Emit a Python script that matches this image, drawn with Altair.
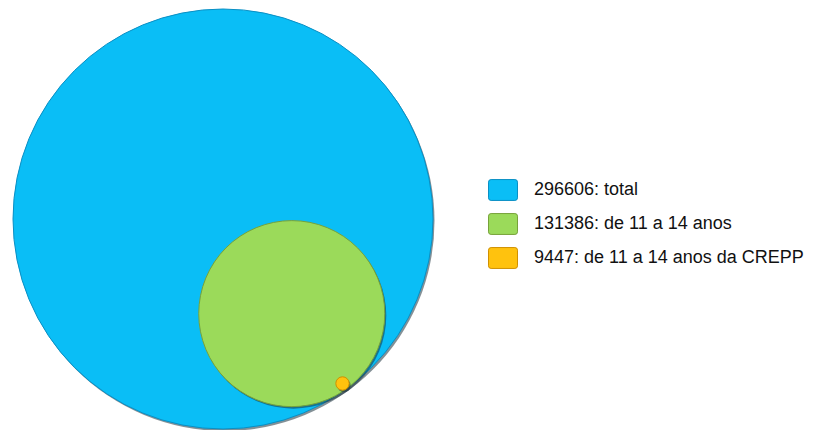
import math
import altair as alt
import pandas as pd

# Nested population counts
labels = ["296606: total", "131386: de 11 a 14 anos", "9447: de 11 a 14 anos da CREPP"]
values = [296606, 131386, 9447]
colors = ["#0ABEF6", "#9BDA5A", "#FFC20E"]
edges = ["#0A8FC4", "#77A23A", "#D09000"]

W, H = 816, 430
R_PX = 210                 # pixel radius of the outer circle
CX, CY = 223, 219          # pixel centre of the outer circle
k = R_PX / values[0]       # pixels per unit (radius proportional to value)
theta = math.radians(-54)  # direction of the shared tangent point

# Each circle sits inside its parent, touching it at the same angle
xs, ys = [0.0], [0.0]
for i in range(1, len(values)):
    d = values[i - 1] - values[i]
    xs.append(xs[-1] + d * math.cos(theta))
    ys.append(ys[-1] + d * math.sin(theta))

df = pd.DataFrame({"label": labels, "value": values, "x": xs, "y": ys})

x_scale = alt.Scale(domain=[-CX / k, (W - CX) / k], range=[0, W], nice=False, zero=False)
y_scale = alt.Scale(domain=[(CY - H) / k, CY / k], range=[H, 0], nice=False, zero=False)
# Vega circle symbols have diameter sqrt(size), so size = (2r)^2
size_scale = alt.Scale(type="pow", exponent=2, domain=[0, values[0]],
                       range=[0, (2 * R_PX) ** 2], zero=True)

# rounded-rectangle legend swatch (29 x 21 px at symbolSize 841)
swatch = ("M -0.82 -0.72 L 0.82 -0.72 Q 1 -0.72 1 -0.54 L 1 0.54 Q 1 0.72 0.82 0.72 "
          "L -0.82 0.72 Q -1 0.72 -1 0.54 L -1 -0.54 Q -1 -0.72 -0.82 -0.72 Z")

color_scale = alt.Scale(domain=labels, range=colors)
stroke_scale = alt.Scale(domain=labels, range=edges)

base = alt.Chart(df).encode(
    x=alt.X("x:Q", scale=x_scale, axis=None),
    y=alt.Y("y:Q", scale=y_scale, axis=None),
    size=alt.Size("value:Q", scale=size_scale, legend=None),
)

legend = alt.Legend(
    title=None,
    orient="none",
    legendX=488,
    legendY=175,
    padding=0,
    symbolType=swatch,
    symbolSize=841,
    symbolStrokeWidth=1,
    symbolStrokeColor="#4a4a4a",
    symbolOpacity=1,
    labelFont="Liberation Sans",
    labelFontSize=18,
    labelColor="#111111",
    labelOffset=16,
    labelLimit=400,
    rowPadding=6,
)

layers = []
for i, lab in enumerate(labels):
    level = base.transform_filter(alt.datum.label == lab)
    # soft drop shadow on the lower-right rim
    shadow = level.mark_circle(opacity=0.55, xOffset=1.5, yOffset=2, color="#1d3440")
    disc = level.mark_circle(opacity=1, strokeWidth=1).encode(
        color=alt.Color("label:N", scale=color_scale, sort=labels,
                        legend=legend if i == 0 else None),
        stroke=alt.Stroke("label:N", scale=stroke_scale, legend=None),
    )
    layers += [shadow, disc]

chart = alt.layer(*layers).properties(width=W, height=H).configure(
    autosize=alt.AutoSizeParams(type="none"),
    padding=0,
).configure_view(strokeWidth=0)

chart.save("out.html", embed_options={"renderer": "svg", "actions": False})
